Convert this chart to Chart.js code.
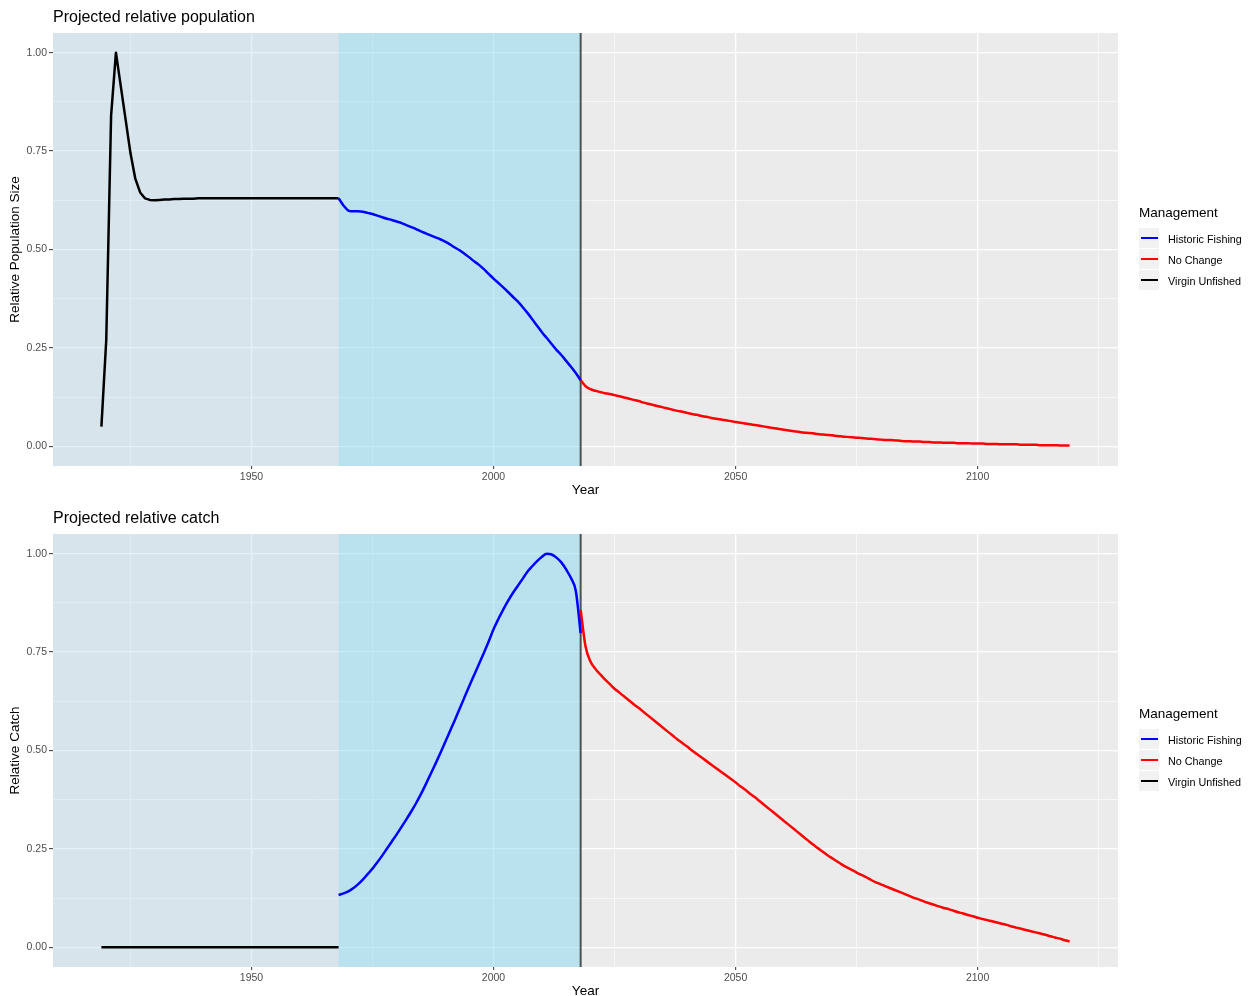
<!DOCTYPE html>
<html>
<head>
<meta charset="utf-8">
<script src="https://cdn.jsdelivr.net/npm/chart.js@4.4.1/dist/chart.umd.min.js"></script>
<style>
  html, body { margin:0; padding:0; background:#fff; overflow:hidden; width:1259px; height:996px; }
  .panel { position:absolute; left:0; width:1259px; height:500px; }
  .ptitle { position:absolute; left:53px; top:7px; font:16px "Liberation Sans", Arial, sans-serif; line-height:20px; color:#000; white-space:nowrap; }
  .legend { position:absolute; left:1139px; top:204px; font-family:"Liberation Sans", Arial, sans-serif; color:#000; }
  .legend .lt { font-size:13.5px; line-height:18px; height:24px; white-space:nowrap; }
  .legend .row { display:flex; align-items:center; height:21px; }
  .legend .key { position:relative; width:20px; height:20px; background:#F2F2F2; margin-bottom:1px; }
  .legend .key i { position:absolute; left:2px; top:8.75px; width:17px; height:2.5px; }
  .legend .lab { font-size:10.8px; margin-left:9px; white-space:nowrap; }
</style>
</head>
<body>
<div class="panel" id="panel1" style="top:0px">
  <canvas id="c1" width="1259" height="500"></canvas>
  <div class="ptitle">Projected relative population</div>
  <div class="legend" id="leg1"></div>
</div>
<div class="panel" id="panel2" style="top:501px">
  <canvas id="c2" width="1259" height="500"></canvas>
  <div class="ptitle">Projected relative catch</div>
  <div class="legend" id="leg2"></div>
</div>
<script>
// ---------------- data ----------------
const seriesNames  = ['Historic Fishing', 'No Change', 'Virgin Unfished'];
const seriesColors = ['#0000FF', '#FF0000', '#000000'];

const fishingStart = 1968;
const projectionStart = 2018;

const xTickValues = [1925, 1950, 1975, 2000, 2025, 2050, 2075, 2100, 2125];
const xTickLabels = [1950, 2000, 2050, 2100];
const yTickValues = [0, 0.125, 0.25, 0.375, 0.5, 0.625, 0.75, 0.875, 1];
const yTickLabels = [0, 0.25, 0.5, 0.75, 1];

const virginYears = [1919,1920,1921,1922,1923,1924,1925,1926,1927,1928,1929,1930,1931,1932,1933,1934,1935,1936,1937,1938,
  1939,1940,1941,1942,1943,1944,1945,1946,1947,1948,1949,1950,1951,1952,1953,1954,1955,1956,1957,1958,
  1959,1960,1961,1962,1963,1964,1965,1966,1967,1968];
const virginPop = [0.050,0.270,0.840,1.000,0.915,0.830,0.745,0.680,0.645,0.630,
  0.626,0.625,0.626,0.627,0.627,0.628,0.628,0.629,0.629,0.629,
  0.630,0.630,0.630,0.630,0.630,0.630,0.630,0.630,0.630,0.630,
  0.630,0.630,0.630,0.630,0.630,0.630,0.630,0.630,0.630,0.630,
  0.630,0.630,0.630,0.630,0.630,0.630,0.630,0.630,0.630,0.630];
const virginCatch = [0,0,0,0,0,0,0,0,0,0, 0,0,0,0,0,0,0,0,0,0, 0,0,0,0,0,0,0,0,0,0,
  0,0,0,0,0,0,0,0,0,0, 0,0,0,0,0,0,0,0,0,0];

const fishingYears = [1968,1969,1970,1971,1972,1973,1974,1975,1976,1977,1978,1979,1980,1981,1982,1983,1984,
  1985,1986,1987,1988,1989,1990,1991,1992,1993,1994,1995,1996,1997,1998,1999,2000,2001,2002,2003,2004,
  2005,2006,2007,2008,2009,2010,2011,2012,2013,2014,2015,2016,2017,2018];
const fishingPop = [0.630,0.612,0.599,0.597,0.597,0.596,0.593,0.590,0.586,0.582,
  0.578,0.575,0.571,0.567,0.562,0.557,0.552,0.546,0.541,0.536,
  0.531,0.526,0.520,0.513,0.505,0.498,0.489,0.480,0.470,0.461,
  0.450,0.438,0.426,0.415,0.404,0.392,0.380,0.368,0.354,0.339,
  0.323,0.306,0.290,0.275,0.260,0.245,0.232,0.217,0.202,0.186,
  0.168];
const fishingCatch = [0.133,0.137,0.142,0.150,0.160,0.172,0.186,0.200,0.216,0.233,
  0.251,0.269,0.287,0.306,0.325,0.345,0.366,0.389,0.414,0.440,
  0.466,0.493,0.521,0.549,0.577,0.606,0.635,0.664,0.692,0.720,
  0.748,0.777,0.808,0.834,0.858,0.880,0.900,0.918,0.936,0.954,
  0.968,0.981,0.992,1.000,0.998,0.990,0.978,0.960,0.938,0.905,
  0.798];

const projYears = [2018,2019,2020,2021,2022,2023,2024,2025,2026,2027,2028,2029,2030,2031,2032,2033,2034,
  2035,2036,2037,2038,2039,2040,2041,2042,2043,2044,2045,2046,2047,2048,2049,2050,2051,2052,2053,2054,
  2055,2056,2057,2058,2059,2060,2061,2062,2063,2064,2065,2066,2067,2068,2069,2070,2071,2072,2073,2074,
  2075,2076,2077,2078,2079,2080,2081,2082,2083,2084,2085,2086,2087,2088,2089,2090,2091,2092,2093,2094,
  2095,2096,2097,2098,2099,2100,2101,2102,2103,2104,2105,2106,2107,2108,2109,2110,2111,2112,2113,2114,
  2115,2116,2117,2118,2119];
const projPop = [0.168,0.153,0.145,0.141,0.138,0.135,0.133,0.130,0.127,0.124,
  0.121,0.118,0.115,0.111,0.108,0.105,0.102,0.099,0.096,0.093,
  0.090,0.088,0.085,0.082,0.080,0.077,0.075,0.072,0.070,0.068,
  0.066,0.064,0.062,0.060,0.058,0.056,0.054,0.052,0.050,0.048,
  0.046,0.044,0.042,0.040,0.038,0.037,0.035,0.034,0.033,0.031,
  0.030,0.029,0.028,0.026,0.025,0.024,0.023,0.022,0.021,0.020,
  0.019,0.018,0.017,0.016,0.016,0.015,0.014,0.013,0.013,0.012,
  0.012,0.011,0.011,0.010,0.010,0.009,0.009,0.009,0.008,0.008,
  0.008,0.007,0.007,0.007,0.006,0.006,0.006,0.005,0.005,0.005,
  0.005,0.004,0.004,0.004,0.004,0.003,0.003,0.003,0.003,0.002,
  0.002,0.002];
const projCatch = [0.857,0.765,0.727,0.708,0.694,0.681,0.669,0.657,0.647,0.637,
  0.627,0.617,0.608,0.598,0.588,0.578,0.568,0.558,0.548,0.538,
  0.528,0.519,0.510,0.500,0.491,0.482,0.473,0.464,0.455,0.446,
  0.437,0.428,0.419,0.409,0.400,0.390,0.381,0.371,0.361,0.351,
  0.341,0.331,0.321,0.311,0.301,0.291,0.281,0.271,0.261,0.252,
  0.243,0.234,0.226,0.218,0.210,0.203,0.197,0.190,0.184,0.178,
  0.171,0.165,0.160,0.155,0.150,0.145,0.140,0.135,0.130,0.125,
  0.121,0.116,0.112,0.108,0.104,0.100,0.097,0.093,0.089,0.086,
  0.082,0.079,0.075,0.072,0.069,0.066,0.063,0.060,0.057,0.053,
  0.050,0.047,0.044,0.041,0.038,0.035,0.032,0.028,0.025,0.022,
  0.018,0.015];

// ---------------- chart ----------------
Chart.defaults.font.family = '"Liberation Sans", Arial, sans-serif';

const isMajorX = v => xTickLabels.includes(v);
const isMajorY = v => yTickLabels.some(t => Math.abs(t - v) < 1e-9);

const panelPlugin = {
  id: 'panelDecor',
  beforeDraw(chart) {
    const {ctx, chartArea: a} = chart;
    ctx.save();
    ctx.fillStyle = '#EBEBEB';
    ctx.fillRect(a.left, a.top, a.right - a.left, a.bottom - a.top);
    ctx.restore();
  },
  beforeDatasetsDraw(chart) {
    const {ctx, chartArea: a, scales: {x}} = chart;
    const x1 = x.getPixelForValue(fishingStart);
    const x2 = x.getPixelForValue(projectionStart);
    ctx.save();
    ctx.fillStyle = 'rgba(178,215,238,0.35)';
    ctx.fillRect(a.left, a.top, x1 - a.left, a.bottom - a.top);
    ctx.fillStyle = 'rgba(137,215,241,0.5)';
    ctx.fillRect(x1, a.top, x2 - x1, a.bottom - a.top);
    ctx.strokeStyle = 'rgba(45,45,45,0.8)';
    ctx.lineWidth = 2;
    ctx.beginPath();
    ctx.moveTo(x2, a.top);
    ctx.lineTo(x2, a.bottom);
    ctx.stroke();
    ctx.restore();
  }
};

function toXY(years, vals) { return years.map((yr, i) => ({x: yr, y: vals[i]})); }

function makeDatasets(fishVals, projVals, virginVals) {
  const sets = [
    {years: fishingYears, vals: fishVals, smooth: true},
    {years: projYears, vals: projVals, smooth: true},
    {years: virginYears, vals: virginVals, smooth: false}
  ];
  return sets.map((s, i) => ({
    label: seriesNames[i],
    data: toXY(s.years, s.vals),
    borderColor: seriesColors[i],
    backgroundColor: seriesColors[i],
    borderWidth: 2.5,
    pointRadius: 0,
    cubicInterpolationMode: s.smooth ? 'monotone' : 'default',
    tension: 0,
    fill: false,
    borderJoinStyle: 'round',
    borderCapStyle: 'butt'
  }));
}

function makeChart(canvasId, yTitle, datasets) {
  return new Chart(document.getElementById(canvasId), {
    type: 'line',
    data: {datasets},
    plugins: [panelPlugin],
    options: {
      responsive: false,
      animation: false,
      events: [],
      layout: {padding: {left: 0, right: 141, top: 33, bottom: 0}},
      plugins: {legend: {display: false}, tooltip: {enabled: false}, title: {display: false}},
      scales: {
        x: {
          type: 'linear',
          min: 1909, max: 2129,
          afterBuildTicks: s => { s.ticks = xTickValues.map(v => ({value: v})); },
          afterFit: s => { s.height = 34; },
          ticks: {
            autoSkip: false, maxRotation: 0, minRotation: 0, padding: 2,
            color: '#4D4D4D', font: {size: 10.5},
            callback: v => isMajorX(v) ? String(v) : ''
          },
          grid: {
            color: '#FFFFFF',
            lineWidth: c => (c.tick && isMajorX(c.tick.value)) ? 1.3 : 0.6,
            drawTicks: true, tickLength: 3, tickWidth: 1,
            tickColor: c => (c.tick && isMajorX(c.tick.value)) ? '#333333' : 'rgba(0,0,0,0)'
          },
          border: {display: false},
          title: {display: true, text: 'Year', color: '#000', font: {size: 13.5}, padding: {top: 0, bottom: 2}}
        },
        y: {
          type: 'linear',
          min: -0.05, max: 1.05,
          afterBuildTicks: s => { s.ticks = yTickValues.map(v => ({value: v})); },
          afterFit: s => { s.width = 53; },
          ticks: {
            autoSkip: false, padding: 2,
            color: '#4D4D4D', font: {size: 10.5},
            callback: v => isMajorY(v) ? v.toFixed(2) : ''
          },
          grid: {
            color: '#FFFFFF',
            lineWidth: c => (c.tick && isMajorY(c.tick.value)) ? 1.3 : 0.6,
            drawTicks: true, tickLength: 4, tickWidth: 1,
            tickColor: c => (c.tick && isMajorY(c.tick.value)) ? '#333333' : 'rgba(0,0,0,0)'
          },
          border: {display: false},
          title: {display: true, text: yTitle, color: '#000', font: {size: 13.5}, padding: {top: 7, bottom: 0}}
        }
      }
    }
  });
}

function buildLegend(id) {
  const el = document.getElementById(id);
  let html = '<div class="lt">Management</div>';
  seriesNames.forEach((n, i) => {
    html += '<div class="row"><span class="key"><i style="background:' + seriesColors[i] + '"></i></span><span class="lab">' + n + '</span></div>';
  });
  el.innerHTML = html;
}

makeChart('c1', 'Relative Population Size', makeDatasets(fishingPop, projPop, virginPop));
makeChart('c2', 'Relative Catch', makeDatasets(fishingCatch, projCatch, virginCatch));
buildLegend('leg1');
buildLegend('leg2');
</script>
</body>
</html>
